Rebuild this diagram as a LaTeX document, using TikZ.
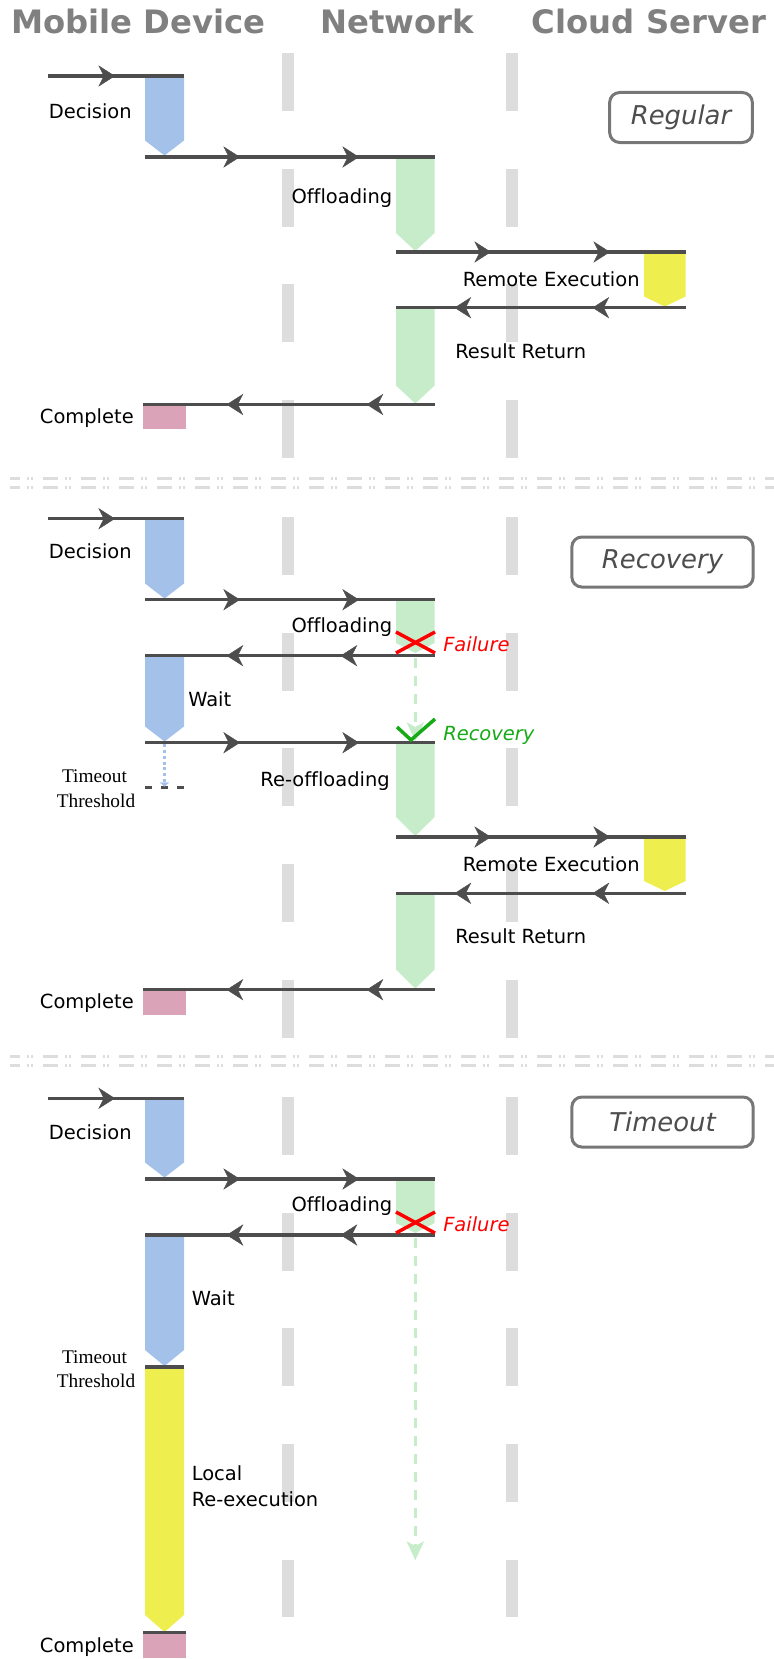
\documentclass[tikz,border=0pt]{standalone}
\usepackage{fontspec}
\usetikzlibrary{arrows.meta,decorations.markings}
\newfontfamily\labfont[Ligatures=NoCommon,BoldFont={DejaVu Sans Bold},ItalicFont={DejaVu Sans Oblique}]{DejaVu Sans}
\newfontfamily\serfont{Liberation Serif}

\definecolor{msgc}{HTML}{4D4D4D}
\definecolor{lanec}{HTML}{DDDDDD}
\definecolor{hdrc}{HTML}{808080}
\definecolor{blueact}{HTML}{A4C2E9}
\definecolor{greenact}{HTML}{C6ECCA}
\definecolor{yellowact}{HTML}{EFEE4F}
\definecolor{pinkact}{HTML}{DBA3B7}
\definecolor{failc}{HTML}{FF0000}
\definecolor{okc}{HTML}{16AA16}
\definecolor{framec}{HTML}{777777}
\definecolor{tagc}{HTML}{4D4D4D}

% activation bar: fill, centre x, half width, top, bottom, tip height
\newcommand{\actbar}[6]{%
  \fill[#1] ({#2-#3},#4) -- ({#2+#3},#4) -- ({#2+#3},{#5-#6}) -- (#2,#5)
    -- ({#2-#3},{#5-#6}) -- cycle;}

\tikzset{
  msgtip/.tip={Stealth[length=12.5pt,width=16pt,inset=4pt,line width=0.3pt]},
  msg/.style={color=msgc, line width=2.4pt},
  twoarr/.style 2 args={postaction={decorate},decoration={markings,
      mark=at position #1 with {\arrow{msgtip}},
      mark=at position #2 with {\arrow{msgtip}}}},
  onearr/.style={postaction={decorate},decoration={markings,
      mark=at position #1 with {\arrow{msgtip}}}},
  lifeline/.style={draw=lanec, line width=9pt, dash pattern=on 43.5pt off 43.3pt},
  sepline/.style={draw=lanec, line width=2.4pt,
      dash pattern=on 11.25pt off 5.25pt on 1.125pt off 1.875pt on 1.125pt off 7.875pt,
      dash phase=3.75pt},
  lbl/.style={font=\labfont\fontsize{14.6pt}{17pt}\selectfont, text=black, inner sep=0pt},
  faillbl/.style={lbl, font=\labfont\itshape\fontsize{14.6pt}{17pt}\selectfont, text=failc},
  oklbl/.style={lbl, font=\labfont\itshape\fontsize{14.6pt}{17pt}\selectfont, text=okc},
  serlbl/.style={font=\serfont\fontsize{14.5pt}{17pt}\selectfont, text=black, inner sep=0pt},
  hdr/.style={font=\labfont\bfseries\fontsize{24.2pt}{28pt}\selectfont, text=hdrc, inner sep=0pt},
  tag/.style={draw=framec, line width=2.25pt, rounded corners=7.5pt, text=tagc,
      font=\labfont\itshape\fontsize{19.4pt}{23pt}\selectfont, minimum height=37.5pt},
  cross/.style={draw=failc, line width=2.6pt},
  tick/.style={draw=okc, line width=2.6pt},
  retry/.style={draw=greenact, line width=2.25pt, dash pattern=on 7.5pt off 6pt,
      -{Stealth[length=14pt,width=13pt,inset=3.5pt,line width=0.3pt,sep=0pt]}},
  waitdots/.style={draw=blueact, line width=2.2pt, dash pattern=on 2.2pt off 2.2pt,
      -{Triangle[length=3pt,width=7pt,line width=0.3pt]}},
  thrdash/.style={draw=msgc, line width=2.4pt, dash pattern=on 5.25pt off 6.75pt},
}

\begin{document}
\begin{tikzpicture}[x=0.75pt,y=-0.75pt]
\useasboundingbox (0,0) rectangle (774,1659);

% ---------- column headings ----------
\node[hdr, anchor=base] (hMob) at (138.5,34) {Mobile Device};
\node[hdr, anchor=base] (hNet) at (397,34) {Network};
\node[hdr, anchor=base] (hCld) at (649,34) {Cloud Server};

% ---------- lane boundaries ----------
\coordinate (l1a) at (288,53);   \coordinate (l1b) at (288,458);
\coordinate (l2a) at (512,53);   \coordinate (l2b) at (512,458);
\coordinate (l3a) at (288,517);  \coordinate (l3b) at (288,1038);
\coordinate (l4a) at (512,517);  \coordinate (l4b) at (512,1038);
\coordinate (l5a) at (288,1097); \coordinate (l5b) at (288,1617);
\coordinate (l6a) at (512,1097); \coordinate (l6b) at (512,1617);
\foreach \u/\v in {l1a/l1b,l2a/l2b,l3a/l3b,l4a/l4b,l5a/l5b,l6a/l6b}
  \draw[lifeline] (\u) -- (\v);

% ---------- scenario separators ----------
\coordinate (s1a) at (10,478.3);  \coordinate (s1b) at (774,478.3);
\coordinate (s2a) at (10,487.3);  \coordinate (s2b) at (774,487.3);
\coordinate (s3a) at (10,1056.7); \coordinate (s3b) at (774,1056.7);
\coordinate (s4a) at (10,1065.7); \coordinate (s4b) at (774,1065.7);
\foreach \u/\v in {s1a/s1b,s2a/s2b,s3a/s3b,s4a/s4b}
  \draw[sepline] (\u) -- (\v);

% ---------- scenario tags ----------
\node[tag, minimum width=107pt] (tagReg) at (681,117.5) {Regular};
\node[tag, minimum width=136pt] (tagRec) at (662.5,562) {Recovery};
\node[tag, minimum width=136pt] (tagTo)  at (662.5,1122) {Timeout};

% ================= Regular =================
\actbar{blueact}{164.5}{19.5}{76}{155.5}{15}
\actbar{greenact}{415.3}{19.3}{157}{251}{18}
\actbar{yellowact}{664.8}{20.8}{252}{306.5}{10}
\actbar{greenact}{415.3}{19.3}{307.7}{403.5}{18}
\fill[pinkact] (143,404.5) rectangle (185.6,429);

\coordinate (a0) at (48,76);       \coordinate (a1) at (184,76);
\coordinate (a2) at (145,157);     \coordinate (a3) at (434.6,157);
\coordinate (a4) at (396,252);     \coordinate (a5) at (685.5,252);
\coordinate (a6) at (685.5,307.7); \coordinate (a7) at (396,307.7);
\coordinate (a8) at (434.6,404.5); \coordinate (a9) at (143,404.5);
\draw[msg, onearr=50.25pt] (a0) -- (a1);
\draw[msg, twoarr={71.25pt}{160.5pt}] (a2) -- (a3);
\draw[msg, twoarr={71.25pt}{160.5pt}] (a4) -- (a5);
\draw[msg, twoarr={69.75pt}{173.25pt}] (a6) -- (a7);
\draw[msg, twoarr={51pt}{156pt}] (a8) -- (a9);

\node[lbl, anchor=base east] (r1) at (132,118) {Decision};
\node[lbl, anchor=base east] (r2) at (392.5,203) {Offloading};
\node[lbl, anchor=base west] (r3) at (462.5,286.7) {Remote Execution};
\node[lbl, anchor=base west] (r4) at (455,358) {Result Return};
\node[lbl, anchor=base east] (r5) at (134,423) {Complete};

% ================= Recovery =================
\actbar{blueact}{164.5}{19.5}{518.7}{598.5}{15}
\actbar{greenact}{415.3}{19.3}{599.7}{653}{10}
\actbar{blueact}{164.5}{19.5}{655.7}{741.5}{15}
\actbar{greenact}{415.3}{19.3}{742.7}{836}{19}
\actbar{yellowact}{664.8}{20.8}{837}{891}{10}
\actbar{greenact}{415.3}{19.3}{893.3}{988.5}{19}
\fill[pinkact] (143,989.7) rectangle (185.6,1015);

\coordinate (b0) at (48,518.7);     \coordinate (b1) at (184,518.7);
\coordinate (b2) at (145,599.7);    \coordinate (b3) at (434.6,599.7);
\coordinate (b4) at (434.6,655.7);  \coordinate (b5) at (145,655.7);
\coordinate (b6) at (145,742.7);    \coordinate (b7) at (434.6,742.7);
\coordinate (b8) at (396,837);      \coordinate (b9) at (685.5,837);
\coordinate (b10) at (685.5,893.3); \coordinate (b11) at (396,893.3);
\coordinate (b12) at (434.6,989.7); \coordinate (b13) at (143,989.7);
\coordinate (b14) at (145,787.7);   \coordinate (b15) at (184,787.7);
\coordinate (bw0) at (164.5,744);   \coordinate (bw1) at (164.5,786.5);
\coordinate (bg0) at (415.3,658);   \coordinate (bg1) at (415.3,741);

\draw[retry] (bg0) -- (bg1);
\draw[thrdash] (b14) -- (b15);
\draw[waitdots] (bw0) -- (bw1);

\draw[msg, onearr=50.25pt] (b0) -- (b1);
\draw[msg, twoarr={71.25pt}{160.5pt}] (b2) -- (b3);
\draw[msg, twoarr={70.5pt}{156pt}] (b4) -- (b5);
\draw[msg, twoarr={71.25pt}{160.5pt}] (b6) -- (b7);
\draw[msg, twoarr={71.25pt}{160.5pt}] (b8) -- (b9);
\draw[msg, twoarr={69.75pt}{173.25pt}] (b10) -- (b11);
\draw[msg, twoarr={51pt}{156pt}] (b12) -- (b13);

% failure mark and recovery tick
\coordinate (bx0) at (396,632); \coordinate (bx1) at (435,653);
\coordinate (bx2) at (396,653); \coordinate (bx3) at (435,632);
\draw[cross] (bx0) -- (bx1);
\draw[cross] (bx2) -- (bx3);
\coordinate (bk0) at (397,727); \coordinate (bk1) at (411,740); \coordinate (bk2) at (435,719);
\draw[tick] (bk0) -- (bk1) -- (bk2);

\node[lbl, anchor=base east] (v1) at (132,558.7) {Decision};
\node[lbl, anchor=base east] (v2) at (392.5,632) {Offloading};
\node[faillbl, anchor=base west] (v3) at (443,651.5) {Failure};
\node[lbl, anchor=base west] (v4) at (188,706) {Wait};
\node[oklbl, anchor=base west] (v5) at (443,740.5) {Recovery};
\node[serlbl, anchor=base] (v6) at (94.5,782.7) {Timeout};
\node[serlbl, anchor=base] (v7) at (96,807) {Threshold};
\node[lbl, anchor=base east] (v8) at (390,786.5) {Re-offloading};
\node[lbl, anchor=base west] (v9) at (462.5,871.7) {Remote Execution};
\node[lbl, anchor=base west] (v10) at (455,943) {Result Return};
\node[lbl, anchor=base east] (v11) at (134,1008) {Complete};

% ================= Timeout =================
\actbar{blueact}{164.5}{19.5}{1098.3}{1177.5}{15}
\actbar{greenact}{415.3}{19.3}{1179}{1233}{10}
\actbar{blueact}{164.5}{19.5}{1235}{1366}{16}
\actbar{yellowact}{164.5}{19.5}{1367}{1632}{17}
\fill[pinkact] (143,1632.7) rectangle (185.6,1658);

\coordinate (c0) at (48,1098.3);   \coordinate (c1) at (184,1098.3);
\coordinate (c2) at (145,1179);    \coordinate (c3) at (434.6,1179);
\coordinate (c4) at (434.6,1235);  \coordinate (c5) at (145,1235);
\coordinate (c6) at (145,1367);    \coordinate (c7) at (184,1367);
\coordinate (c8) at (143,1632.7);  \coordinate (c9) at (185.6,1632.7);
\coordinate (cg0) at (415.3,1238); \coordinate (cg1) at (415.3,1560);

\draw[retry] (cg0) -- (cg1);

\draw[msg, onearr=50.25pt] (c0) -- (c1);
\draw[msg, twoarr={71.25pt}{160.5pt}] (c2) -- (c3);
\draw[msg, twoarr={70.5pt}{156pt}] (c4) -- (c5);
\draw[msg] (c6) -- (c7);
\draw[msg] (c8) -- (c9);

\coordinate (cx0) at (396,1212); \coordinate (cx1) at (435,1233);
\coordinate (cx2) at (396,1233); \coordinate (cx3) at (435,1212);
\draw[cross] (cx0) -- (cx1);
\draw[cross] (cx2) -- (cx3);

\node[lbl, anchor=base east] (w1) at (132,1139) {Decision};
\node[lbl, anchor=base east] (w2) at (392.5,1211) {Offloading};
\node[faillbl, anchor=base west] (w3) at (443,1231.5) {Failure};
\node[lbl, anchor=base west] (w4) at (191.5,1305) {Wait};
\node[serlbl, anchor=base] (w5) at (94.5,1363) {Timeout};
\node[serlbl, anchor=base] (w6) at (96,1387) {Threshold};
\node[lbl, anchor=base west] (w7) at (191.5,1480.7) {Local};
\node[lbl, anchor=base west] (w8) at (191.5,1506) {Re-execution};
\node[lbl, anchor=base east] (w9) at (134,1652.7) {Complete};

\end{tikzpicture}
\end{document}
